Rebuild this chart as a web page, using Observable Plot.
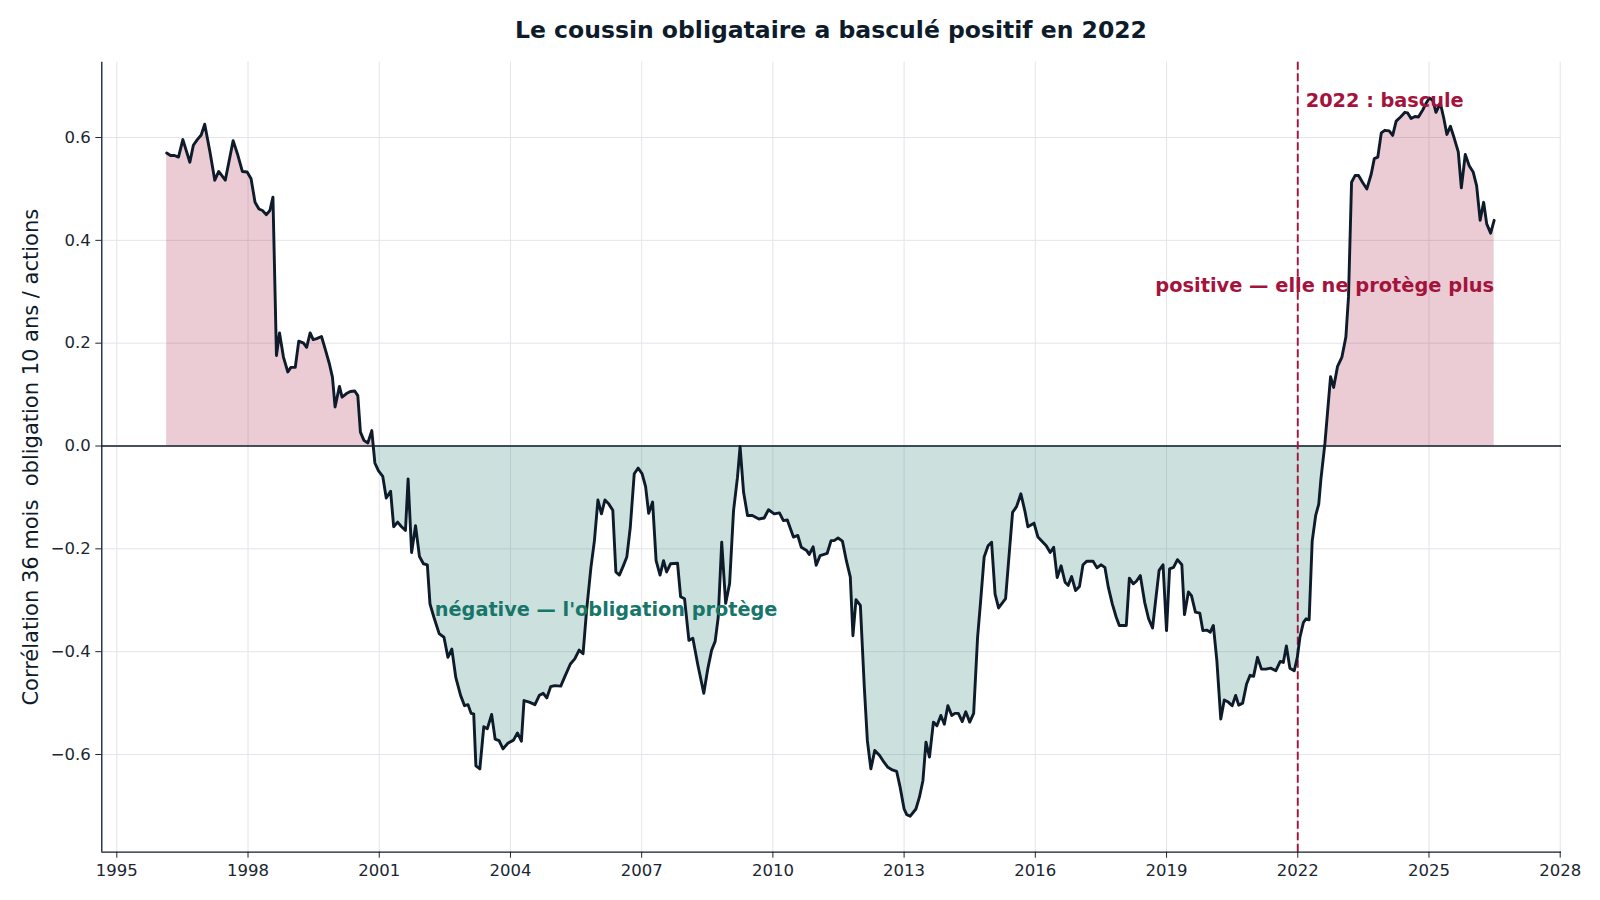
<!DOCTYPE html>
<html><head><meta charset="utf-8">
<script src="https://cdn.jsdelivr.net/npm/d3@7"></script>
<script src="https://cdn.jsdelivr.net/npm/@observablehq/plot@0.6"></script>
<style>
body{margin:0;background:#fff;font-family:"DejaVu Sans",sans-serif;}
#title{height:52px;padding-top:4px;line-height:52px;padding-left:62px;text-align:center;font-weight:bold;font-size:23.5px;color:#0d1b2a;}
</style></head><body>
<div id="title">Le coussin obligataire a basculé positif en 2022</div>
<div id="chart"></div>
<script>
const dates = [
1996.14,1996.23,1996.32,1996.41,1996.51,1996.67,1996.75,1996.84,1996.93,1997.01,
1997.13,1997.24,1997.33,1997.48,1997.66,1997.77,1997.87,1997.98,1998.07,1998.16,
1998.25,1998.33,1998.42,1998.50,1998.57,1998.65,1998.72,1998.81,1998.91,1998.98,
1999.08,1999.16,1999.27,1999.34,1999.42,1999.49,1999.57,1999.68,1999.77,1999.86,
1999.93,1999.99,2000.09,2000.15,2000.25,2000.34,2000.44,2000.51,2000.57,2000.65,
2000.74,2000.83,2000.90,2000.98,2001.08,2001.16,2001.26,2001.33,2001.42,2001.51,
2001.60,2001.66,2001.74,2001.83,2001.92,2002.01,2002.10,2002.16,2002.25,2002.37,
2002.48,2002.57,2002.66,2002.75,2002.86,2002.95,2003.03,2003.10,2003.16,2003.21,
2003.30,2003.39,2003.47,2003.57,2003.65,2003.74,2003.83,2003.94,2004.07,2004.16,
2004.25,2004.31,2004.43,2004.56,2004.66,2004.75,2004.83,2004.92,2005.01,2005.15,
2005.25,2005.37,2005.47,2005.57,2005.66,2005.74,2005.84,2005.92,2006.00,2006.08,
2006.16,2006.25,2006.34,2006.41,2006.49,2006.58,2006.66,2006.74,2006.83,2006.92,
2007.01,2007.09,2007.16,2007.25,2007.33,2007.42,2007.50,2007.57,2007.66,2007.82,
2007.89,2007.98,2008.08,2008.17,2008.28,2008.42,2008.51,2008.60,2008.68,2008.75,
2008.83,2008.92,2009.01,2009.10,2009.19,2009.25,2009.33,2009.42,2009.53,2009.68,
2009.80,2009.90,2010.03,2010.15,2010.24,2010.33,2010.47,2010.57,2010.65,2010.77,
2010.83,2010.92,2010.99,2011.08,2011.24,2011.33,2011.40,2011.49,2011.59,2011.68,
2011.77,2011.83,2011.90,2012.00,2012.09,2012.16,2012.24,2012.33,2012.44,2012.54,
2012.63,2012.73,2012.83,2012.91,2013.00,2013.06,2013.14,2013.27,2013.35,2013.43,
2013.50,2013.58,2013.67,2013.75,2013.84,2013.92,2014.00,2014.09,2014.16,2014.24,
2014.33,2014.41,2014.50,2014.59,2014.68,2014.75,2014.83,2014.92,2015.00,2015.08,
2015.16,2015.32,2015.39,2015.48,2015.57,2015.67,2015.76,2015.83,2015.97,2016.06,
2016.25,2016.34,2016.42,2016.50,2016.59,2016.68,2016.75,2016.83,2016.92,2017.01,
2017.09,2017.18,2017.32,2017.41,2017.50,2017.59,2017.67,2017.76,2017.85,2017.92,
2018.08,2018.15,2018.24,2018.31,2018.40,2018.50,2018.59,2018.68,2018.75,2018.83,
2018.92,2019.00,2019.07,2019.16,2019.25,2019.35,2019.41,2019.50,2019.57,2019.66,
2019.76,2019.83,2019.92,2020.00,2020.07,2020.15,2020.24,2020.32,2020.41,2020.50,
2020.58,2020.65,2020.74,2020.83,2020.91,2020.99,2021.08,2021.17,2021.27,2021.38,
2021.50,2021.60,2021.67,2021.74,2021.82,2021.92,2021.99,2022.05,2022.13,2022.19,
2022.26,2022.33,2022.41,2022.48,2022.53,2022.62,2022.75,2022.82,2022.91,2023.01,
2023.10,2023.16,2023.23,2023.31,2023.39,2023.48,2023.58,2023.68,2023.75,2023.83,
2023.91,2023.99,2024.09,2024.17,2024.25,2024.35,2024.45,2024.51,2024.59,2024.68,
2024.76,2024.86,2024.93,2025.01,2025.09,2025.16,2025.26,2025.34,2025.41,2025.49,
2025.58,2025.67,2025.74,2025.83,2025.92,2026.01,2026.09,2026.17,2026.25,2026.32,
2026.41,2026.49
];
// 36-month rolling correlation, 10y bond vs equities
const corr = [
0.570,0.565,0.565,0.562,0.596,0.552,0.585,0.596,0.605,0.626,
0.572,0.517,0.534,0.517,0.594,0.565,0.534,0.533,0.520,0.474,
0.461,0.458,0.450,0.458,0.484,0.176,0.220,0.173,0.144,0.153,
0.153,0.204,0.200,0.192,0.220,0.207,0.209,0.213,0.187,0.160,
0.134,0.076,0.116,0.095,0.102,0.106,0.107,0.098,0.027,0.011,
0.006,0.030,-0.033,-0.048,-0.059,-0.101,-0.088,-0.157,-0.148,-0.157,
-0.164,-0.064,-0.207,-0.155,-0.215,-0.229,-0.231,-0.307,-0.333,-0.365,
-0.372,-0.411,-0.395,-0.450,-0.485,-0.505,-0.503,-0.520,-0.521,-0.622,
-0.628,-0.546,-0.550,-0.522,-0.570,-0.573,-0.589,-0.578,-0.572,-0.558,
-0.574,-0.495,-0.498,-0.503,-0.485,-0.481,-0.490,-0.468,-0.466,-0.467,
-0.447,-0.424,-0.414,-0.397,-0.404,-0.320,-0.236,-0.184,-0.105,-0.132,
-0.105,-0.113,-0.125,-0.245,-0.251,-0.233,-0.216,-0.158,-0.054,-0.043,
-0.054,-0.079,-0.131,-0.109,-0.223,-0.251,-0.223,-0.245,-0.229,-0.228,
-0.293,-0.297,-0.378,-0.374,-0.424,-0.481,-0.434,-0.397,-0.380,-0.333,
-0.187,-0.306,-0.268,-0.126,-0.061,-0.001,-0.090,-0.135,-0.135,-0.142,
-0.140,-0.124,-0.132,-0.130,-0.145,-0.144,-0.177,-0.174,-0.197,-0.203,
-0.211,-0.196,-0.232,-0.213,-0.209,-0.184,-0.184,-0.179,-0.185,-0.223,
-0.255,-0.369,-0.299,-0.310,-0.469,-0.573,-0.628,-0.592,-0.602,-0.615,
-0.625,-0.630,-0.633,-0.664,-0.706,-0.717,-0.720,-0.706,-0.683,-0.651,
-0.576,-0.605,-0.537,-0.544,-0.524,-0.541,-0.505,-0.524,-0.520,-0.520,
-0.536,-0.517,-0.537,-0.520,-0.372,-0.301,-0.216,-0.194,-0.187,-0.288,
-0.315,-0.297,-0.223,-0.129,-0.118,-0.093,-0.126,-0.157,-0.150,-0.177,
-0.194,-0.207,-0.197,-0.256,-0.233,-0.265,-0.271,-0.254,-0.281,-0.273,
-0.231,-0.224,-0.224,-0.237,-0.231,-0.236,-0.275,-0.307,-0.333,-0.349,
-0.349,-0.257,-0.268,-0.263,-0.252,-0.304,-0.336,-0.354,-0.301,-0.242,
-0.231,-0.359,-0.239,-0.236,-0.221,-0.231,-0.328,-0.284,-0.291,-0.323,
-0.325,-0.359,-0.358,-0.362,-0.349,-0.417,-0.531,-0.494,-0.498,-0.505,
-0.485,-0.504,-0.500,-0.463,-0.446,-0.448,-0.411,-0.434,-0.434,-0.432,
-0.437,-0.419,-0.421,-0.389,-0.432,-0.437,-0.411,-0.372,-0.343,-0.336,
-0.338,-0.185,-0.135,-0.113,-0.064,0.004,0.135,0.114,0.155,0.173,
0.212,0.290,0.513,0.526,0.526,0.513,0.500,0.529,0.559,0.562,
0.609,0.614,0.613,0.604,0.632,0.640,0.649,0.648,0.637,0.641,
0.640,0.654,0.666,0.677,0.672,0.649,0.667,0.637,0.606,0.622,
0.598,0.572,0.502,0.567,0.545,0.533,0.506,0.439,0.474,0.432,
0.414,0.439
];
const xTicks = [1995,1998,2001,2004,2007,2010,2013,2016,2019,2022,2025,2028];
const yTicks = [-0.6,-0.4,-0.2,0.0,0.2,0.4,0.6];
const switchYear = [2022];
const yLabel = "Corrélation 36 mois \u00a0obligation 10 ans / actions";
const labelSwitch = "2022 : bascule";
const labelPos = "positive — elle ne protège plus";
const labelNeg = "négative — l'obligation protège";

const xDomain = [1994.657, 2028.03];
const yDomain = [-0.790, 0.7465];
const ink = "#0d1b2a", crimson = "#a4133c", teal = "#17756a";

const data = dates.map((t, i) => ({t, v: corr[i]}));
const last = data[data.length - 1];

const chart = Plot.plot({
  width: 1600, height: 844,
  marginTop: 5.7, marginBottom: 48.3, marginLeft: 101.3, marginRight: 39,
  style: {fontFamily: "DejaVu Sans", fontSize: "16.5px", color: "#1b2631", background: "#fff", overflow: "visible"},
  x: {domain: xDomain, label: null},
  y: {domain: yDomain, label: null},
  marks: [
    Plot.gridX({ticks: xTicks, stroke: "#e4e4ea", strokeOpacity: 1, strokeWidth: 1}),
    Plot.gridY({ticks: yTicks, stroke: "#e4e4ea", strokeOpacity: 1, strokeWidth: 1}),
    Plot.areaY(data, {x: "t", y1: 0, y2: d => Math.max(0, d.v), fill: crimson, fillOpacity: 0.22}),
    Plot.areaY(data, {x: "t", y1: 0, y2: d => Math.min(0, d.v), fill: teal, fillOpacity: 0.22}),
    Plot.ruleY([0], {stroke: ink, strokeWidth: 1.6}),
    Plot.ruleX(switchYear, {stroke: crimson, strokeWidth: 1.9, strokeDasharray: "8,3.5"}),
    Plot.lineY(data, {x: "t", y: "v", stroke: ink, strokeWidth: 2.9, strokeLinejoin: "round"}),
    Plot.axisX({ticks: xTicks, tickSize: 6, tickPadding: 6, tickFormat: d => String(d), label: null}),
    Plot.axisY({ticks: yTicks, tickSize: 6, tickPadding: 5, tickFormat: d3.format(".1f"), label: null}),
    Plot.ruleX([xDomain[0]], {stroke: ink, strokeWidth: 1.3}),
    Plot.ruleY([yDomain[0]], {stroke: ink, strokeWidth: 1.3}),
    Plot.text([yLabel], {frameAnchor: "left", dx: -71, rotate: -90, fontSize: 21, fill: ink, textAnchor: "middle", lineAnchor: "middle"}),
    Plot.text([labelSwitch], {x: switchYear[0], y: 0.672, dx: 8, textAnchor: "start", lineAnchor: "middle", fontSize: 19.3, fontWeight: "bold", fill: crimson}),
    Plot.text([labelPos], {x: last.t, y: 0.312, textAnchor: "end", lineAnchor: "middle", fontSize: 19.4, fontWeight: "bold", fill: crimson}),
    Plot.text([labelNeg], {x: 2002.27, y: -0.318, textAnchor: "start", lineAnchor: "middle", fontSize: 19.3, fontWeight: "bold", fill: teal})
  ]
});
document.getElementById("chart").appendChild(chart);
</script>
</body></html>
